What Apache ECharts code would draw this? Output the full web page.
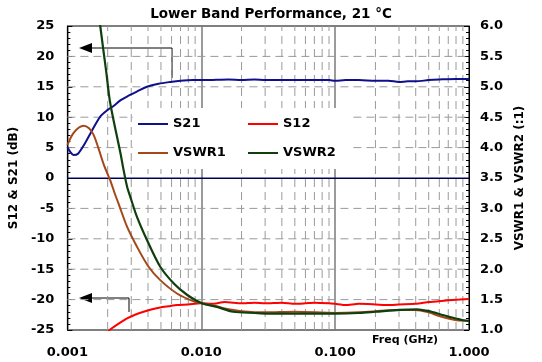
<!DOCTYPE html>
<html><head><meta charset="utf-8">
<script src="https://cdn.jsdelivr.net/npm/echarts@6/dist/echarts.min.js"></script>
<style>html,body{margin:0;padding:0;background:#fff}#c{width:542px;height:362px}</style>
</head><body><div id="c"></div>
<script>
// ---- data ----
var xTicks = [0.001, 0.01, 0.1, 1];
var minorFreqs = [0.002,0.003,0.004,0.005,0.006,0.007,0.008,0.009,
                  0.02,0.03,0.04,0.05,0.06,0.07,0.08,0.09,
                  0.2,0.3,0.4,0.5,0.6,0.7,0.8,0.9];
var hGridVals = [-20, -15, -10, -5, 5, 10, 15, 20];

var s21Freq = [0.001,0.00105,0.00111,0.0012,0.00136,0.0015,0.00176,0.002,0.0022,0.0025,0.00279,0.0033,0.00393,0.0048,0.00587,0.007,0.0087,0.010,0.013,0.016,0.02,0.025,0.03,0.04,0.05,0.07,0.09,0.1,0.12,0.15,0.2,0.25,0.3,0.35,0.4,0.5,0.6,0.8,1.0];
var s21Val  = [5.1,4.3,3.8,4.0,5.8,7.5,10.1,11.2,11.8,12.8,13.4,14.2,15.0,15.5,15.8,16.0,16.1,16.1,16.15,16.2,16.1,16.2,16.1,16.1,16.1,16.1,16.1,16.0,16.1,16.1,16.0,16.0,15.8,15.9,15.9,16.1,16.2,16.3,16.3];

var s12Freq = [0.0019,0.00207,0.0024,0.00279,0.0032,0.00371,0.0043,0.00494,0.0057,0.00659,0.008,0.0098,0.012,0.015,0.02,0.025,0.03,0.04,0.05,0.06,0.07,0.09,0.1,0.12,0.15,0.2,0.25,0.3,0.4,0.5,0.574,0.7,0.85,1.0];
var s12Val  = [-26,-25,-24.0,-23.1,-22.5,-22.0,-21.6,-21.3,-21.1,-20.9,-20.8,-20.6,-20.7,-20.4,-20.6,-20.5,-20.6,-20.5,-20.7,-20.6,-20.5,-20.6,-20.7,-20.9,-20.7,-20.8,-20.9,-20.8,-20.7,-20.4,-20.3,-20.1,-20.0,-19.9];

var vswr1Freq = [0.001,0.00112,0.00132,0.00145,0.00157,0.0017,0.00187,0.00209,0.00228,0.00241,0.00279,0.00331,0.00404,0.00494,0.00659,0.00877,0.0101,0.013,0.016,0.02,0.03,0.05,0.1,0.15,0.2,0.3,0.4,0.5,0.6,0.7,0.81,1.0];
var vswr1Val  = [4.04,4.25,4.36,4.32,4.21,4.0,3.72,3.46,3.22,3.08,2.70,2.37,2.04,1.82,1.60,1.47,1.44,1.39,1.34,1.31,1.29,1.30,1.28,1.29,1.31,1.33,1.33,1.29,1.23,1.19,1.16,1.15];

var vswr2Freq = [0.0017,0.00176,0.00195,0.00209,0.00249,0.00263,0.00279,0.00295,0.00331,0.00393,0.00494,0.00621,0.00782,0.0101,0.0131,0.0173,0.025,0.0309,0.05,0.1,0.15,0.2,0.3,0.407,0.5,0.608,0.7,0.8,0.906,1.0];
var vswr2Val  = [6.3,6.0,5.25,4.73,3.91,3.63,3.36,3.19,2.86,2.48,2.04,1.77,1.58,1.44,1.38,1.30,1.28,1.27,1.27,1.27,1.28,1.30,1.33,1.34,1.31,1.26,1.22,1.19,1.16,1.15];

var refLineFreq = [0.001, 1];
var refLineVal = [0, 0];

function zip(a, b) { return a.map(function (v, i) { return [v, b[i]]; }); }
var gridData = [];
minorFreqs.forEach(function (f) { gridData.push([f, -25], [f, 25], [f, '-']); });
hGridVals.forEach(function (v) { gridData.push([0.001, v], [1, v], [1, '-']); });

var FONT = '"DejaVu Sans", Verdana, sans-serif';
var GRID_C = '#9a9a9a';
var chart = echarts.init(document.getElementById('c'), null, {renderer: 'canvas'});
chart.setOption({
  animation: false,
  backgroundColor: '#fff',
  title: {
    text: 'Lower Band Performance, 21 °C', left: 'center', top: 2,
    textStyle: {fontFamily: FONT, fontSize: 13.5, fontWeight: 'bold', color: '#000'}
  },
  grid: {left: 67, right: 73, top: 26, bottom: 32, show: true, borderColor: '#000', borderWidth: 1},
  legend: {
    data: ['S21', 'S12', 'VSWR1', 'VSWR2'],
    left: 133, top: 108, width: 222, orient: 'horizontal',
    padding: [4, 0, 4, 5], itemGap: 5, itemWidth: 30, itemHeight: 10,
    backgroundColor: '#fff',
    icon: 'path://M0,4 L30,4 L30,6 L0,6 Z',
    textStyle: {fontFamily: FONT, fontSize: 13, fontWeight: 'bold', color: '#000', width: 70, lineHeight: 24}
  },
  xAxis: {
    type: 'log', logBase: 10, min: 0.001, max: 1,
    axisLine: {show: true, lineStyle: {color: '#000', width: 1}},
    axisTick: {show: false},
    axisLabel: {
      margin: 16, fontFamily: FONT, fontSize: 13, fontWeight: 'bold', color: '#000',
      formatter: function (v) { return Number(v).toFixed(3); }
    },
    splitLine: {show: true, lineStyle: {color: '#7a7a7a', width: 1.5, type: 'solid'}}
  },
  yAxis: [{
    type: 'value', min: -25, max: 25, interval: 5, position: 'left',
    name: 'S12 & S21 (dB)', nameLocation: 'middle', nameGap: 34, nameRotate: 90,
    nameTextStyle: {fontFamily: FONT, fontSize: 12, fontWeight: 'bold', color: '#000'},
    axisLine: {show: true, lineStyle: {color: '#000'}},
    axisTick: {show: true, inside: true, length: 5, lineStyle: {color: '#000'}},
    minorTick: {show: true, splitNumber: 5, length: 3, lineStyle: {color: '#000'}},
    axisLabel: {margin: 13, fontFamily: FONT, fontSize: 13, fontWeight: 'bold', color: '#000'},
    splitLine: {show: false}
  }, {
    type: 'value', min: 1, max: 6, interval: 0.5, position: 'right',
    name: 'VSWR1 & VSWR2 (:1)', nameLocation: 'middle', nameGap: 43, nameRotate: 90,
    nameTextStyle: {fontFamily: FONT, fontSize: 12, fontWeight: 'bold', color: '#000'},
    axisLine: {show: true, lineStyle: {color: '#000'}},
    axisTick: {show: true, inside: true, length: 5, lineStyle: {color: '#000'}},
    minorTick: {show: true, splitNumber: 5, length: 3, lineStyle: {color: '#000'}},
    axisLabel: {margin: 11, fontFamily: FONT, fontSize: 13, fontWeight: 'bold', color: '#000',
      formatter: function (v) { return v.toFixed(1); }},
    splitLine: {show: false}
  }],
  series: [{
    name: 'gridlines', type: 'line', yAxisIndex: 0, z: 0, silent: true, symbol: 'none', connectNulls: false,
    data: gridData, lineStyle: {color: GRID_C, width: 1, type: [8, 5]}
  }, {
    name: 'ref0', type: 'line', yAxisIndex: 0, z: 1, silent: true, symbol: 'none',
    data: zip(refLineFreq, refLineVal),
    lineStyle: {color: '#00008b', width: 1}
  }, {
    name: 'S21', type: 'line', yAxisIndex: 0, symbol: 'none', smooth: 0.3,
    data: zip(s21Freq, s21Val), lineStyle: {color: '#10108c', width: 2}, itemStyle: {color: '#10108c'}
  }, {
    name: 'S12', type: 'line', yAxisIndex: 0, symbol: 'none', smooth: 0.2,
    data: zip(s12Freq, s12Val), lineStyle: {color: '#ff0000', width: 2}, itemStyle: {color: '#ff0000'}
  }, {
    name: 'VSWR1', type: 'line', yAxisIndex: 1, symbol: 'none', smooth: 0.3,
    data: zip(vswr1Freq, vswr1Val), lineStyle: {color: '#a4481a', width: 2}, itemStyle: {color: '#a4481a'}
  }, {
    name: 'VSWR2', type: 'line', yAxisIndex: 1, symbol: 'none', smooth: 0.3,
    data: zip(vswr2Freq, vswr2Val), lineStyle: {color: '#0f3f0f', width: 2.2}, itemStyle: {color: '#0f3f0f'}
  }],
  graphic: [
    {type: 'text', left: 372, top: 335, style: {text: 'Freq (GHz)', font: 'bold 11px ' + FONT, fill: '#000'}},
    {type: 'polyline', shape: {points: [[91, 48], [172, 48], [172, 78]]}, style: {stroke: '#000', lineWidth: 1, fill: null}},
    {type: 'polygon', shape: {points: [[79, 48], [92, 43], [92, 53]]}, style: {fill: '#000'}},
    {type: 'polyline', shape: {points: [[91, 298], [129, 298], [129, 312]]}, style: {stroke: '#000', lineWidth: 1, fill: null}},
    {type: 'polygon', shape: {points: [[79, 298], [92, 293], [92, 303]]}, style: {fill: '#000'}}
  ]
});
</script></body></html>
